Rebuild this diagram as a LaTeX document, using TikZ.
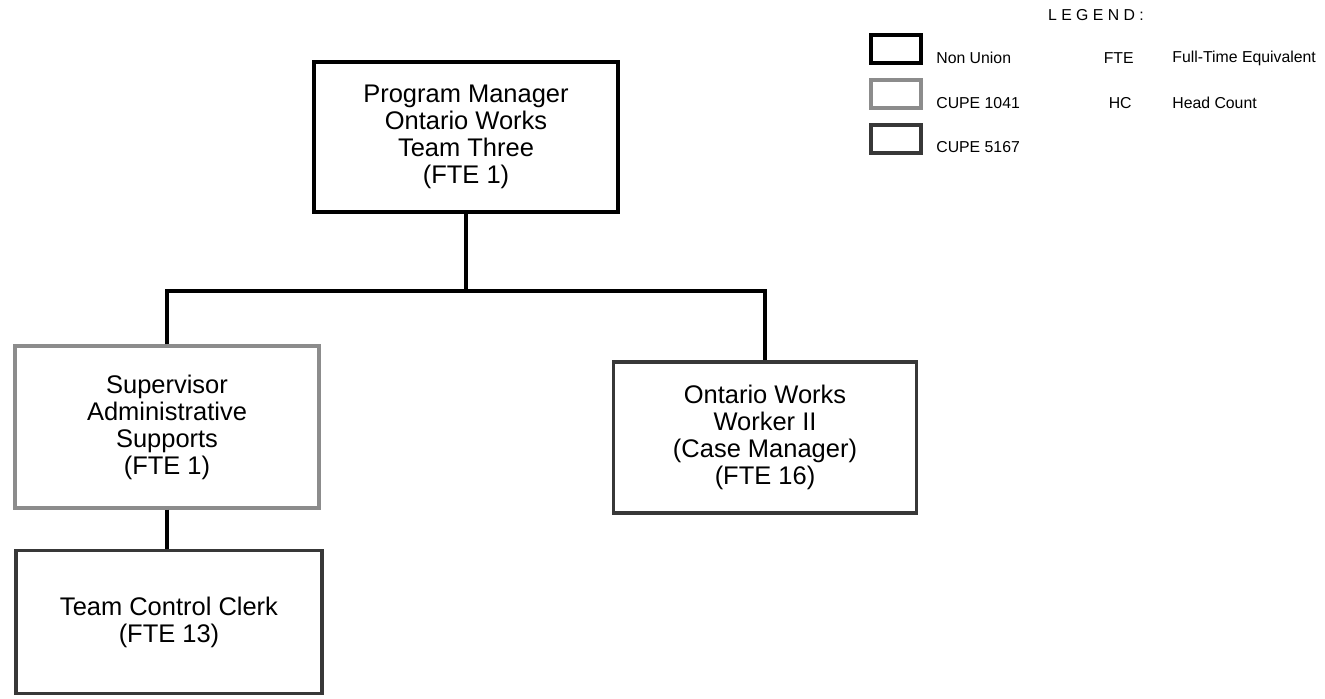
\documentclass[tikz,border=0pt]{standalone}
\usepackage{fontspec}
\setmainfont{Liberation Sans}
\usetikzlibrary{calc}

\begin{document}
\begin{tikzpicture}[x=0.02cm, y=-0.02cm,
    box/.style={draw, fill=white, inner sep=0pt, align=center,
        font=\fontsize{14.5}{15.4}\selectfont},
    nonunion/.style={box, draw=black, line width=2.2pt},
    cupeA/.style={box, draw=black!45, line width=1.8pt},
    cupeB/.style={box, draw=black!78, line width=2.2pt},
    link/.style={draw=black, line width=2.2pt},
    keytext/.style={anchor=west, inner sep=0pt, font=\fontsize{9}{10}\selectfont}]
    \useasboundingbox (0,0) rectangle (1325,698);

    % Manager
    \node[nonunion, minimum width=6.08cm, minimum height=3cm] (mgr) at (466,137)
        {Program Manager\\Ontario Works\\Team Three\\(FTE 1)};

    % Second level
    \node[cupeA, minimum width=6.08cm, minimum height=3.24cm] (sup) at (167,427)
        {Supervisor\\Administrative\\Supports\\(FTE 1)};
    \node[cupeB, minimum width=6.06cm, minimum height=3.02cm] (worker) at (765,437.5)
        {Ontario Works\\Worker II\\(Case Manager)\\(FTE 16)};

    % Third level
    \node[cupeB, minimum width=6.12cm, minimum height=2.86cm] (clerk) at (169,622)
        {Team Control Clerk\\(FTE 13)};

    % Connectors
    \coordinate (bus) at (466,291);
    \draw[link] (mgr.south) -- (bus);
    \draw[link] (sup.north) |- (bus) -| (worker.north);
    \draw[link] (sup.south) -- (sup.south |- clerk.north);

    % Legend
    \node[inner sep=0pt, font=\fontsize{9}{10}\selectfont] (legend) at (1096,15) {L E G E N D :};
    \node[nonunion, minimum width=1cm, minimum height=0.56cm] (keynon) at (896,49) {};
    \node[cupeA, minimum width=1cm, minimum height=0.56cm] (keyA) at (896,94) {};
    \node[cupeB, minimum width=1cm, minimum height=0.56cm] (keyB) at (896,139) {};
    \node[keytext] (txtnon) at (936,58) {Non Union};
    \node[keytext] (txtA) at (936,103) {CUPE 1041};
    \node[keytext] (txtB) at (936,147) {CUPE 5167};
    \node[keytext, anchor=east] (fte) at (1134,58) {FTE};
    \node[keytext, anchor=east] (hc) at (1132,103) {HC};
    \node[keytext] (ftetxt) at (1172,58) {Full-Time Equivalent};
    \node[keytext] (hctxt) at (1172,103) {Head Count};
\end{tikzpicture}
\end{document}
